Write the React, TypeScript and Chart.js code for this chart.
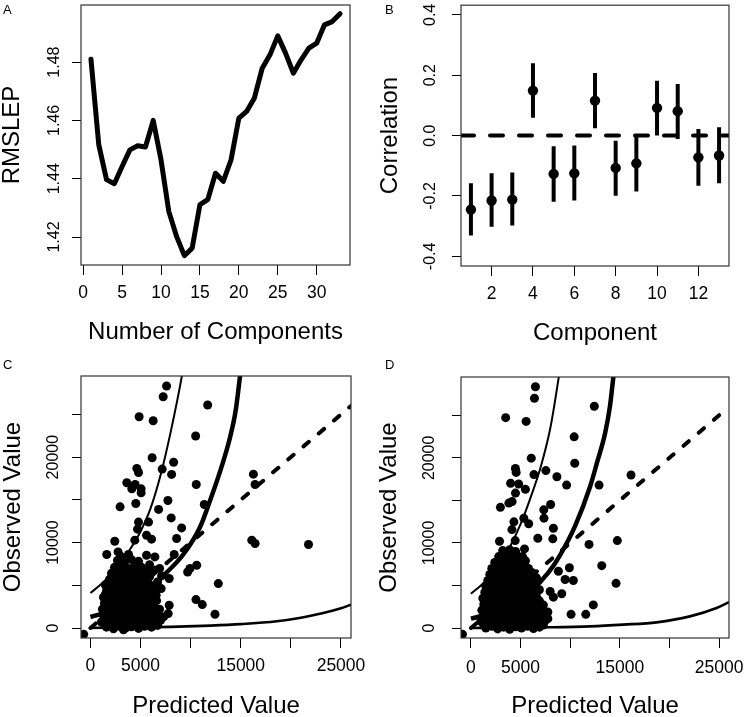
import React, { useEffect, useRef } from "react";
import { Chart, registerables } from "chart.js";

Chart.register(...registerables);

const FONT = "'Liberation Sans', Arial, Helvetica, sans-serif";

// ---------------- Panel A ----------------
const A_COMPONENTS = [1, 2, 3, 4, 5, 6, 7, 8, 9, 10, 11, 12, 13, 14, 15, 16, 17, 18, 19, 20, 21, 22, 23, 24, 25, 26, 27, 28, 29, 30, 31, 32, 33];
const A_RMSLEP = [1.481, 1.4517, 1.4397, 1.4383, 1.4442, 1.4499, 1.4513, 1.4509, 1.46, 1.4465, 1.4288, 1.4202, 1.4136, 1.4162, 1.4311, 1.4328, 1.4419, 1.4391, 1.4465, 1.4608, 1.4631, 1.4677, 1.4779, 1.4825, 1.489, 1.4831, 1.4762, 1.4808, 1.4848, 1.4865, 1.4928, 1.4939, 1.4966];
const A_X_RANGE = [-0.28, 34.28];
const A_Y_RANGE = [1.4104, 1.4996];
const A_X_TICKS = [0, 5, 10, 15, 20, 25, 30];
const A_X_LABELS = ["0", "5", "10", "15", "20", "25", "30"];
const A_Y_TICKS = [1.42, 1.44, 1.46, 1.48];
const A_Y_LABELS = ["1.42", "1.44", "1.46", "1.48"];

// ---------------- Panel B ----------------
const B_COMPONENTS = [1, 2, 3, 4, 5, 6, 7, 8, 9, 10, 11, 12, 13];
const B_CORR = [-0.245, -0.215, -0.212, 0.149, -0.127, -0.125, 0.116, -0.107, -0.092, 0.092, 0.081, -0.072, -0.066];
const B_LOWER = [-0.331, -0.302, -0.298, 0.059, -0.219, -0.215, 0.024, -0.199, -0.185, 0.0, -0.011, -0.166, -0.158];
const B_UPPER = [-0.158, -0.125, -0.122, 0.24, -0.035, -0.033, 0.207, -0.017, 0.0, 0.182, 0.171, 0.022, 0.028];
const B_REFERENCE = 0;
const B_X_RANGE = [0.52, 13.48];
const B_Y_RANGE = [-0.432, 0.432];
const B_X_TICKS = [2, 4, 6, 8, 10, 12];
const B_X_LABELS = ["2", "4", "6", "8", "10", "12"];
const B_Y_TICKS = [-0.4, -0.2, 0, 0.2, 0.4];
const B_Y_LABELS = ["-0.4", "-0.2", "0.0", "0.2", "0.4"];

// ---------------- Panels C & D shared axes ----------------
const PV_X_TICKS = [0, 5000, 10000, 15000, 20000, 25000];
const PV_X_LABELS = ["0", "5000", "", "15000", "", "25000"];
const PV_Y_TICKS = [0, 5000, 10000, 15000, 20000, 25000];
const PV_Y_LABELS = ["0", "", "10000", "", "20000", ""];
const IDENTITY = [0, 26000]; // y = x reference line end values

// ---------------- Panel C ----------------
const C_X_RANGE = [-940, 26000];
const C_Y_RANGE = [-1170, 29500];
const C_POINTS: [number, number][] = [
  [7600, 28330], [7260, 27070], [11700, 26100], [4860, 24730], [6260, 24260],
  [10500, 22470], [6160, 19930], [8300, 19400], [4630, 18680], [4800, 18200],
  [7160, 18600], [8100, 17980], [16260, 18010], [3630, 17000], [4460, 16800],
  [4130, 16290], [5060, 16290], [5060, 15820], [10560, 16800], [16430, 16800],
  [2960, 14180], [4530, 14580], [7730, 14930], [6800, 13880], [11360, 14460],
  [8060, 12890], [4800, 12400], [5800, 12400], [9100, 11720], [4700, 11570],
  [5600, 10860], [8600, 10480], [6100, 10400], [2430, 10160], [4430, 10280],
  [16100, 10280], [16430, 9890], [21760, 9770], [1630, 8600], [2760, 8910],
  [5600, 8520], [6430, 8320], [8360, 8600], [9930, 6960], [10600, 7350],
  [9700, 6560], [7860, 5790], [12760, 5200], [10530, 3330], [11160, 2740],
  [12430, 1610], [7860, 2660], [7760, 1690], [-670, -740],
  [6100, 6560], [6900, 6960], [7060, 4610], [6560, 3830],
  [1600, 100], [2300, -100], [2900, 200], [3500, 0], [4100, 150], [4800, -50], [5400, 200], [6100, 100], [6700, 300], [3300, -200],
  [1400, 400], [2000, 350], [2600, 450], [3200, 400], [3800, 350], [4400, 450], [5100, 350], [5800, 450], [6400, 400],
  [1100, 700], [1800, 900], [2500, 600], [3100, 800], [3800, 700], [4400, 900], [5000, 600], [5700, 800], [6400, 700], [7000, 900],
  [1600, 1150], [2300, 1100], [2900, 1200], [3600, 1100], [4300, 1150], [4900, 1050], [5500, 1200], [6200, 1100], [6900, 1150],
  [1300, 1500], [2000, 1300], [2600, 1600], [3300, 1400], [3900, 1600], [4600, 1300], [5200, 1500], [5900, 1400], [6600, 1700], [7300, 1300],
  [1500, 1850], [2100, 1750], [2700, 1900], [3400, 1800], [4000, 1850], [4600, 1750], [5300, 1900], [5900, 1800], [6500, 1900],
  [1200, 2200], [1800, 2100], [2400, 2300], [3000, 2100], [3700, 2300], [4300, 2200], [4900, 2400], [5600, 2100], [6200, 2300], [6900, 2200],
  [1700, 2550], [2400, 2650], [3100, 2500], [3700, 2600], [4400, 2550], [5000, 2650], [5700, 2500], [6300, 2600],
  [1400, 2900], [2100, 3000], [2700, 2800], [3400, 3000], [4000, 2900], [4700, 3100], [5300, 2800], [6000, 3000], [6600, 3200],
  [1600, 3250], [2300, 3300], [3000, 3200], [3700, 3300], [4300, 3250], [5000, 3350], [5600, 3200], [6200, 3300],
  [1300, 3600], [1900, 3700], [2600, 3500], [3200, 3700], [3900, 3600], [4500, 3800], [5200, 3500], [5800, 3700], [6500, 3900],
  [1500, 3950], [2200, 4000], [2900, 3900], [3500, 4000], [4200, 3950], [4800, 4050], [5500, 3900], [6100, 4000],
  [1600, 4300], [2300, 4400], [2900, 4200], [3600, 4400], [4200, 4300], [4900, 4500], [5500, 4200], [6200, 4400], [6800, 4700],
  [1800, 4650], [2500, 4700], [3200, 4600], [3800, 4700], [4500, 4650], [5100, 4800], [5800, 4700],
  [1500, 5000], [2100, 5100], [2800, 4900], [3400, 5200], [4100, 5000], [4700, 5100], [5400, 5300], [6000, 5000], [6700, 5400],
  [2000, 5350], [2700, 5400], [3300, 5300], [4000, 5400], [4600, 5350], [5300, 5500],
  [1900, 5700], [2600, 5800], [3200, 5600], [3900, 5900], [4500, 5700], [5200, 5800], [5900, 6000], [7100, 6100],
  [2300, 6050], [3000, 6100], [3700, 6000], [4400, 6100], [5000, 6050],
  [2100, 6400], [2800, 6500], [3500, 6300], [4200, 6600], [4800, 6400], [5500, 6700], [6300, 6800],
  [2600, 6750], [3300, 6850], [4000, 6800], [4700, 6900],
  [2400, 7100], [3100, 7200], [3700, 7000], [4400, 7300], [5100, 7100], [5900, 7400],
  [2700, 7900], [3400, 7700], [4100, 8000], [4800, 7800], [3000, 8400], [3800, 8600],
];
const C_UPPER_X = [0, 1000, 2000, 3000, 4000, 5000, 6000, 7000, 8000, 9130, 9400];
const C_UPPER_Y = [4100, 5050, 6200, 7600, 9300, 11300, 14000, 17900, 22900, 29530, 31500];
const C_MID_X = [0, 2000, 4000, 6000, 7600, 9260, 10930, 11930, 12930, 13930, 14500, 14930, 15200];
const C_MID_Y = [1290, 2000, 3200, 4800, 6500, 8600, 11800, 14900, 18300, 22300, 25500, 29500, 32000];
const C_LOW_X = [0, 4000, 8000, 12000, 15000, 18600, 21000, 23000, 25000, 26000];
const C_LOW_Y = [20, 60, 130, 280, 450, 785, 1200, 1690, 2300, 2740];

// ---------------- Panel D ----------------
const D_X_RANGE = [-1000, 26000];
const D_Y_RANGE = [-1170, 29500];
const D_POINTS: [number, number][] = [
  [6500, 28360], [6400, 27000], [12430, 26060], [3500, 24720], [5560, 24280],
  [10400, 22470], [6080, 19960], [10460, 19360], [4480, 18750], [4560, 18290],
  [7550, 18500], [6350, 18030], [8660, 17780], [16130, 17980], [9640, 16800],
  [12910, 16800], [4000, 17020], [4810, 16920], [5490, 16300], [4490, 15860],
  [2970, 14180], [3820, 14680], [4150, 14860], [8030, 14520], [7340, 13890],
  [7360, 12910], [5330, 12900], [4330, 12480], [5820, 12260], [4130, 11570],
  [8310, 11720], [8250, 10480], [6740, 10550], [2880, 10200], [4460, 10280],
  [11900, 9830], [14750, 10280], [13180, 7330], [9920, 7080], [8810, 6680],
  [9490, 5710], [10320, 5590], [14620, 5250], [7980, 4300], [9150, 4030],
  [8310, 3630], [12330, 2720], [10090, 1610], [11570, 1610], [7750, 1100],
  [7750, 1880], [-850, -740],
  [1500, 0], [2100, 200], [2700, -100], [3300, 100], [3900, -150], [4500, 150], [5100, 0], [5700, 200], [6300, -50], [6900, 100],
  [1300, 350], [1900, 400], [2500, 300], [3100, 450], [3700, 350], [4300, 400], [4900, 300], [5500, 450], [6100, 350], [6700, 400], [7300, 350],
  [1000, 800], [1600, 600], [2200, 700], [2800, 900], [3400, 600], [4000, 800], [4600, 700], [5200, 900], [5800, 600], [6400, 800], [7000, 700], [7500, 900],
  [1400, 1050], [2000, 1100], [2600, 1000], [3200, 1150], [3800, 1050], [4400, 1100], [5000, 1000], [5600, 1150], [6200, 1050], [6800, 1100],
  [1200, 1400], [1800, 1500], [2400, 1300], [3000, 1500], [3600, 1400], [4200, 1600], [4800, 1300], [5400, 1500], [6000, 1400], [6600, 1600], [7200, 1400],
  [1500, 1750], [2100, 1800], [2700, 1700], [3300, 1850], [3900, 1750], [4500, 1800], [5100, 1700], [5700, 1850], [6300, 1750], [6900, 1800],
  [1100, 2100], [1700, 2200], [2300, 2000], [2900, 2200], [3500, 2100], [4100, 2300], [4700, 2000], [5300, 2200], [5900, 2100], [6500, 2300], [7100, 2000],
  [1400, 2450], [2000, 2500], [2600, 2400], [3200, 2550], [3800, 2450], [4400, 2500], [5000, 2400], [5600, 2550], [6200, 2450], [6800, 2500],
  [1300, 2800], [1900, 2900], [2500, 2700], [3100, 2900], [3700, 2800], [4300, 3000], [4900, 2700], [5500, 2900], [6100, 2800], [6700, 3000], [7300, 2700],
  [1500, 3150], [2100, 3200], [2700, 3100], [3300, 3250], [3900, 3150], [4500, 3200], [5100, 3100], [5700, 3250], [6300, 3150], [6900, 3200],
  [1200, 3500], [1800, 3600], [2400, 3400], [3000, 3600], [3600, 3500], [4200, 3700], [4800, 3400], [5400, 3600], [6000, 3500], [6600, 3700],
  [1600, 3850], [2200, 3900], [2800, 3800], [3400, 3950], [4000, 3850], [4600, 3900], [5200, 3800], [5800, 3950], [6400, 3850],
  [1400, 4200], [2000, 4300], [2600, 4100], [3200, 4300], [3800, 4200], [4400, 4400], [5000, 4100], [5600, 4300], [6200, 4200], [6900, 4500],
  [1800, 4550], [2400, 4600], [3000, 4500], [3600, 4650], [4200, 4550], [4800, 4600], [5400, 4500], [6000, 4650], [6600, 4550],
  [1500, 4900], [2100, 5000], [2700, 4800], [3300, 5000], [3900, 4900], [4500, 5100], [5100, 4800], [5700, 5000], [6300, 5200],
  [1900, 5250], [2500, 5300], [3100, 5200], [3700, 5350], [4300, 5250], [4900, 5300], [5500, 5200], [6100, 5350],
  [1700, 5600], [2300, 5700], [2900, 5500], [3500, 5700], [4100, 5600], [4700, 5800], [5300, 5500], [5900, 5700], [6600, 5900],
  [2100, 5950], [2700, 6000], [3300, 5900], [3900, 6050], [4500, 5950], [5100, 6000], [5700, 5900],
  [1900, 6300], [2500, 6400], [3100, 6200], [3700, 6400], [4300, 6300], [4900, 6500], [5500, 6200], [6200, 6500],
  [2400, 6650], [3000, 6700], [3600, 6600], [4200, 6750], [4800, 6650], [5400, 6700],
  [2100, 7000], [2700, 7100], [3300, 6900], [3900, 7100], [4500, 7000], [5100, 7200], [5800, 7000],
  [2700, 7350], [3300, 7400], [3900, 7300], [4500, 7450], [5100, 7350],
  [2400, 7700], [3000, 7800], [3600, 7600], [4200, 7800], [4800, 7700], [5500, 7900],
  [3100, 8050], [3700, 8100], [4300, 8000], [4900, 8150],
  [2800, 8400], [3400, 8500], [4000, 8300], [4600, 8500], [5200, 8400],
  [3200, 9100], [3900, 9200], [4500, 9000], [5400, 9300],
];
const D_UPPER_X = [0, 1000, 2000, 3000, 4000, 5000, 6000, 7000, 8000, 8850, 9100];
const D_UPPER_Y = [4030, 5000, 6200, 7700, 9700, 12200, 15300, 18800, 23500, 29500, 31500];
const D_MID_X = [0, 2000, 4000, 6000, 7800, 9000, 10500, 12000, 12680, 13510, 14000, 14350, 14600];
const D_MID_Y = [1100, 1750, 2750, 4300, 6500, 8600, 12000, 16600, 19340, 22860, 26000, 29500, 32000];
const D_LOW_X = [0, 4000, 8000, 12000, 15350, 18700, 22060, 24750, 26010];
const D_LOW_Y = [10, 40, 90, 200, 400, 670, 1370, 2350, 3050];

// ---------------- helpers ----------------
const zip = (xs: number[], ys: (number | null)[]) => xs.map((x, i) => ({ x, y: ys[i] }));

type Layout = {
  yW: number; xH: number; top: number; right: number;
  yTitlePad: number; xTitlePad: number; yTickPad: number; xTickPad: number;
};

const boxPlugin = {
  id: "rbox",
  afterDraw(chart: any) {
    const { ctx, chartArea: a } = chart;
    ctx.save();
    ctx.strokeStyle = "#333";
    ctx.lineWidth = 1.2;
    ctx.strokeRect(a.left, a.top, a.right - a.left, a.bottom - a.top);
    ctx.restore();
  },
};

function buildScales(
  xRange: number[], yRange: number[],
  xTicks: number[], xLabels: string[], yTicks: number[], yLabels: string[],
  xTitle: string, yTitle: string, L: Layout
) {
  const xTickFont = { family: FONT, size: 17.5 };
  const yTickFont = { family: FONT, size: 16 };
  const titleFont = { family: FONT, size: 24, lineHeight: 1.05 };
  return {
    x: {
      type: "linear", position: "bottom", min: xRange[0], max: xRange[1],
      afterBuildTicks: (s: any) => { s.ticks = xTicks.map((v) => ({ value: v })); },
      afterFit: (s: any) => { s.height = L.xH; s.paddingLeft = 0; s.paddingRight = 0; },
      ticks: {
        autoSkip: false, maxRotation: 0, minRotation: 0, padding: L.xTickPad, color: "#000", font: xTickFont,
        callback: (v: number) => xLabels[xTicks.indexOf(v)] ?? "",
      },
      grid: { drawOnChartArea: false, drawTicks: true, tickLength: 10, color: "#000", lineWidth: 1 },
      border: { display: false },
      title: { display: true, text: xTitle, color: "#000", font: titleFont, padding: { top: 0, bottom: L.xTitlePad } },
    },
    y: {
      type: "linear", position: "left", min: yRange[0], max: yRange[1],
      afterBuildTicks: (s: any) => { s.ticks = yTicks.map((v) => ({ value: v })); },
      afterFit: (s: any) => { s.width = L.yW; s.paddingTop = 0; s.paddingBottom = 0; },
      ticks: {
        autoSkip: false, maxRotation: 90, minRotation: 90, crossAlign: "center", padding: L.yTickPad, color: "#000", font: yTickFont,
        callback: (v: number) => yLabels[yTicks.indexOf(v)] ?? "",
      },
      grid: { drawOnChartArea: false, drawTicks: true, tickLength: 9, color: "#000", lineWidth: 1 },
      border: { display: false },
      title: { display: true, text: yTitle, color: "#000", font: titleFont, padding: { top: L.yTitlePad, bottom: 0 } },
    },
  };
}

function makeChart(canvas: HTMLCanvasElement, datasets: any[], scales: any, L: Layout) {
  return new Chart(canvas, {
    type: "scatter",
    data: { datasets },
    options: {
      animation: false,
      responsive: false,
      devicePixelRatio: 1,
      events: [],
      layout: { padding: { top: L.top, right: L.right, left: 0, bottom: 0 } },
      plugins: { legend: { display: false }, tooltip: { enabled: false } },
      scales,
    } as any,
    plugins: [boxPlugin],
  });
}

const LAYOUT_A: Layout = { yW: 81, xH: 93, top: 5, right: 25, yTitlePad: 0, xTitlePad: 13, yTickPad: 1.5, xTickPad: 8 };
const LAYOUT_B: Layout = { yW: 86, xH: 92, top: 5, right: 21, yTitlePad: 3, xTitlePad: 12, yTickPad: 8, xTickPad: 8 };
const LAYOUT_C: Layout = { yW: 81, xH: 79, top: 18, right: 24, yTitlePad: 1, xTitlePad: -2, yTickPad: -4, xTickPad: 8 };
const LAYOUT_D: Layout = { yW: 86, xH: 79, top: 19, right: 21, yTitlePad: 2, xTitlePad: -2, yTickPad: 0, xTickPad: 10 };

function pvDatasets(points: [number, number][], ux: number[], uy: number[], mx: number[], my: number[], lx: number[], ly: number[]) {
  const line = (data: any[], w: number, extra: any = {}) => ({
    data, showLine: true, pointRadius: 0, borderColor: "#000", borderWidth: w,
    cubicInterpolationMode: "monotone", clip: 0, ...extra,
  });
  return [
    line(zip(ux, uy), 2),
    line(zip(mx, my), 4.5),
    line(zip(lx, ly), 2.6),
    line(zip(IDENTITY, IDENTITY), 4, { borderDash: [7, 13], borderCapStyle: "round", cubicInterpolationMode: "default" }),
    {
      data: points.map(([x, y]) => ({ x, y })),
      pointRadius: 4.5, pointBackgroundColor: "#000", pointBorderWidth: 0, showLine: false, clip: 0,
    },
  ];
}

export default function App() {
  const refA = useRef<HTMLCanvasElement>(null);
  const refB = useRef<HTMLCanvasElement>(null);
  const refC = useRef<HTMLCanvasElement>(null);
  const refD = useRef<HTMLCanvasElement>(null);

  useEffect(() => {
    const charts: Chart[] = [];

    charts.push(makeChart(refA.current!, [
      {
        data: zip(A_COMPONENTS, A_RMSLEP), showLine: true, pointRadius: 0, borderColor: "#000", borderWidth: 5,
        borderJoinStyle: "round", borderCapStyle: "round", tension: 0, clip: 0,
      },
    ], buildScales(A_X_RANGE, A_Y_RANGE, A_X_TICKS, A_X_LABELS, A_Y_TICKS, A_Y_LABELS, "Number of Components", "RMSLEP", LAYOUT_A), LAYOUT_A));

    const bSegments = B_COMPONENTS.flatMap((c, i) => [
      { x: c, y: B_LOWER[i] }, { x: c, y: B_UPPER[i] }, { x: c, y: null },
    ]);
    charts.push(makeChart(refB.current!, [
      {
        data: bSegments, showLine: true, spanGaps: false, pointRadius: 0, borderColor: "#000", borderWidth: 4,
        borderCapStyle: "butt", clip: 0,
      },
      {
        data: zip(B_COMPONENTS, B_CORR), pointRadius: 5.2, pointBackgroundColor: "#000", pointBorderWidth: 0, showLine: false, clip: 0,
      },
      {
        data: [{ x: B_X_RANGE[0], y: B_REFERENCE }, { x: B_X_RANGE[1], y: B_REFERENCE }],
        showLine: true, pointRadius: 0, borderColor: "#000", borderWidth: 4, borderDash: [13, 16], borderCapStyle: "round", clip: 0,
      },
    ], buildScales(B_X_RANGE, B_Y_RANGE, B_X_TICKS, B_X_LABELS, B_Y_TICKS, B_Y_LABELS, "Component", "Correlation", LAYOUT_B), LAYOUT_B));

    charts.push(makeChart(refC.current!,
      pvDatasets(C_POINTS, C_UPPER_X, C_UPPER_Y, C_MID_X, C_MID_Y, C_LOW_X, C_LOW_Y),
      buildScales(C_X_RANGE, C_Y_RANGE, PV_X_TICKS, PV_X_LABELS, PV_Y_TICKS, PV_Y_LABELS, "Predicted Value", "Observed Value", LAYOUT_C), LAYOUT_C));

    charts.push(makeChart(refD.current!,
      pvDatasets(D_POINTS, D_UPPER_X, D_UPPER_Y, D_MID_X, D_MID_Y, D_LOW_X, D_LOW_Y),
      buildScales(D_X_RANGE, D_Y_RANGE, PV_X_TICKS, PV_X_LABELS, PV_Y_TICKS, PV_Y_LABELS, "Predicted Value", "Observed Value", LAYOUT_D), LAYOUT_D));

    return () => charts.forEach((c) => c.destroy());
  }, []);

  const canvasStyle = (left: number, top: number, h: number): React.CSSProperties => ({
    position: "absolute", left, top, width: 375, height: h,
  });
  const letterStyle = (left: number, top: number): React.CSSProperties => ({
    position: "absolute", left, top, fontFamily: FONT, fontSize: 13, lineHeight: 1, color: "#000",
  });

  return (
    <div style={{ position: "absolute", left: 0, top: 0, width: 750, height: 717, background: "#fff", overflow: "hidden" }}>
      <canvas ref={refA} width={375} height={358} style={canvasStyle(0, 0, 358)} />
      <canvas ref={refB} width={375} height={358} style={canvasStyle(375, 0, 358)} />
      <canvas ref={refC} width={375} height={359} style={canvasStyle(0, 358, 359)} />
      <canvas ref={refD} width={375} height={359} style={canvasStyle(375, 358, 359)} />
      <div style={letterStyle(3, 3.3)}>A</div>
      <div style={letterStyle(385, 3.3)}>B</div>
      <div style={letterStyle(3, 358.3)}>C</div>
      <div style={letterStyle(385, 358.3)}>D</div>
    </div>
  );
}
